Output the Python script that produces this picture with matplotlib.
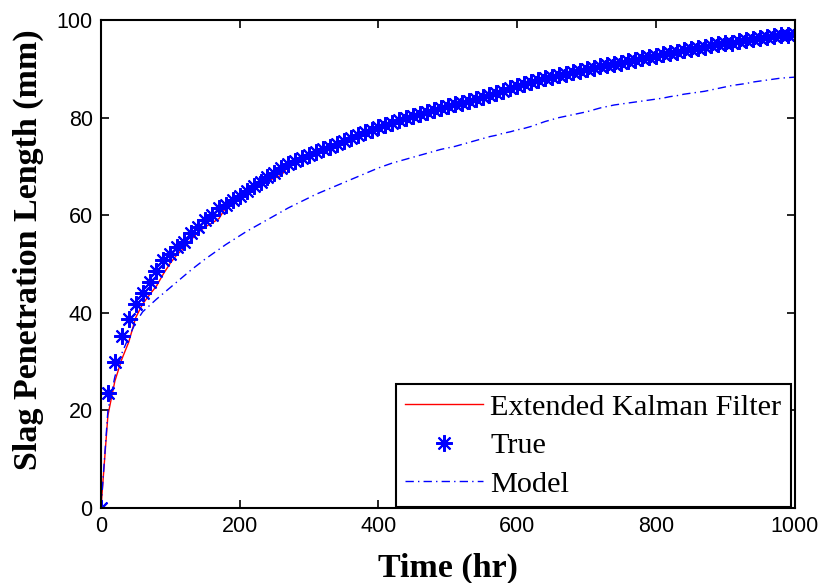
import matplotlib
matplotlib.use("Agg")
import matplotlib.pyplot as plt

# Sampling times (hr)
time_hr = list(range(0, 1001, 10))

# True slag penetration length (mm)
true_len = [
    0.0, 23.5, 30.0, 35.2, 38.7, 41.9, 44.1, 46.4, 48.6, 50.8,
    52.0, 53.5, 54.6, 56.3, 57.6, 59.0, 60.0, 61.4, 62.2, 63.2,
    64.0, 65.0, 66.0, 66.9, 67.8, 68.7, 69.6, 70.6, 71.2, 71.8,
    72.4, 72.9, 73.5, 74.0, 74.6, 75.2, 75.9, 76.5, 77.0, 77.5,
    78.0, 78.5, 79.0, 79.5, 79.9, 80.3, 80.7, 81.1, 81.5, 81.9,
    82.3, 82.7, 83.1, 83.5, 83.9, 84.3, 84.7, 85.1, 85.5, 86.0,
    86.5, 86.9, 87.3, 87.7, 88.1, 88.4, 88.7, 89.0, 89.3, 89.6,
    89.9, 90.2, 90.5, 90.8, 91.0, 91.3, 91.6, 91.9, 92.2, 92.5,
    92.7, 93.0, 93.3, 93.5, 93.8, 94.0, 94.3, 94.5, 94.8, 95.0,
    95.2, 95.4, 95.7, 95.9, 96.1, 96.3, 96.5, 96.7, 96.9, 97.0,
    97.2,
]

# Extended Kalman Filter estimate (mm)
ekf_len = [
    0.0, 19.0, 26.0, 30.5, 34.0, 39.0, 41.8, 43.7, 45.5, 48.0,
    50.2, 52.0, 53.3, 55.0, 56.5, 57.6, 58.4, 59.3, 61.6, 62.8,
    63.5, 64.6, 65.3, 66.2, 67.0, 67.6, 68.2, 70.0, 70.8, 71.5,
    72.2, 72.8, 73.3, 73.9, 74.4, 75.0, 75.7, 76.3, 76.8, 77.4,
    77.9, 78.3, 78.8, 79.3, 79.8, 80.1, 80.5, 81.0, 81.3, 81.7,
    82.2, 82.5, 83.0, 83.3, 83.7, 84.2, 84.5, 85.0, 85.3, 85.8,
    86.3, 86.7, 87.2, 87.5, 88.0, 88.2, 88.6, 88.8, 89.2, 89.4,
    89.8, 90.0, 90.4, 90.6, 90.9, 91.1, 91.5, 91.7, 92.1, 92.3,
    92.6, 92.8, 93.2, 93.3, 93.7, 93.8, 94.2, 94.3, 94.7, 94.8,
    95.1, 95.2, 95.6, 95.7, 96.0, 96.1, 96.4, 96.5, 96.8, 96.9,
    97.1,
]

# Open-loop model prediction (mm)
model_len = [
    0.0, 20.0, 26.9, 31.7, 35.0, 38.0, 40.2, 41.5, 42.8, 44.0,
    45.2, 46.4, 47.6, 48.8, 49.9, 51.0, 52.0, 53.0, 54.0, 54.9,
    55.8, 56.7, 57.5, 58.3, 59.1, 59.9, 60.7, 61.5, 62.2, 62.9,
    63.6, 64.3, 64.9, 65.5, 66.1, 66.7, 67.3, 67.9, 68.5, 69.1,
    69.7, 70.2, 70.7, 71.1, 71.5, 71.9, 72.3, 72.7, 73.1, 73.5,
    73.8, 74.1, 74.5, 74.9, 75.3, 75.7, 76.1, 76.4, 76.8, 77.1,
    77.5, 77.8, 78.2, 78.7, 79.2, 79.6, 80.0, 80.3, 80.6, 80.9,
    81.2, 81.6, 82.0, 82.3, 82.6, 82.8, 83.0, 83.2, 83.4, 83.6,
    83.8, 84.0, 84.3, 84.5, 84.8, 85.0, 85.2, 85.4, 85.7, 86.0,
    86.3, 86.6, 86.8, 87.0, 87.3, 87.5, 87.7, 87.9, 88.1, 88.2,
    88.3,
]

x_ticks = [0, 200, 400, 600, 800, 1000]
y_ticks = [0, 20, 40, 60, 80, 100]

serif = ["Liberation Serif", "DejaVu Serif"]
sans = ["Liberation Sans", "DejaVu Sans"]

fig = plt.figure(figsize=(8.21, 5.83), dpi=100)
ax = fig.add_axes([0.123, 0.1286, 0.845, 0.837])

ax.plot(time_hr, ekf_len, color="#ff0000", lw=1.0, label="Extended Kalman Filter")
ax.plot(time_hr, true_len, linestyle="none", marker=(8, 2, 0), markersize=12,
        markeredgewidth=1.5, color="#0000ff", label="True")
ax.plot(time_hr, model_len, color="#0000ff", lw=1.0, dashes=(6, 3, 1, 3),
        label="Model")

ax.set_xlim(0, 1000)
ax.set_ylim(0, 100)
ax.set_xticks(x_ticks)
ax.set_yticks(y_ticks)
ax.tick_params(direction="in", length=6, width=1.2, top=True, right=True,
               labelsize=15.5, pad=6)
for lab in ax.get_xticklabels() + ax.get_yticklabels():
    lab.set_family(sans)
for sp in ax.spines.values():
    sp.set_linewidth(1.5)

ax.set_xlabel("Time (hr)", fontsize=24.5, fontweight="bold", family=serif, labelpad=11)
ax.set_ylabel("Slag Penetration Length (mm)", fontsize=24.5, fontweight="bold",
              family=serif)
ax.yaxis.set_label_coords(-0.082, 0.529)

leg = ax.legend(loc="lower right", bbox_to_anchor=(0.994, 0.002),
                prop={"family": serif, "size": 21.8}, frameon=True, fancybox=False,
                handlelength=2.6, handletextpad=0.23, labelspacing=0.38,
                borderpad=0.3, borderaxespad=0.0, numpoints=1)
leg.get_frame().set_edgecolor("black")
leg.get_frame().set_linewidth(1.5)
leg.get_frame().set_alpha(1.0)

fig.savefig("out.png", dpi=100)
